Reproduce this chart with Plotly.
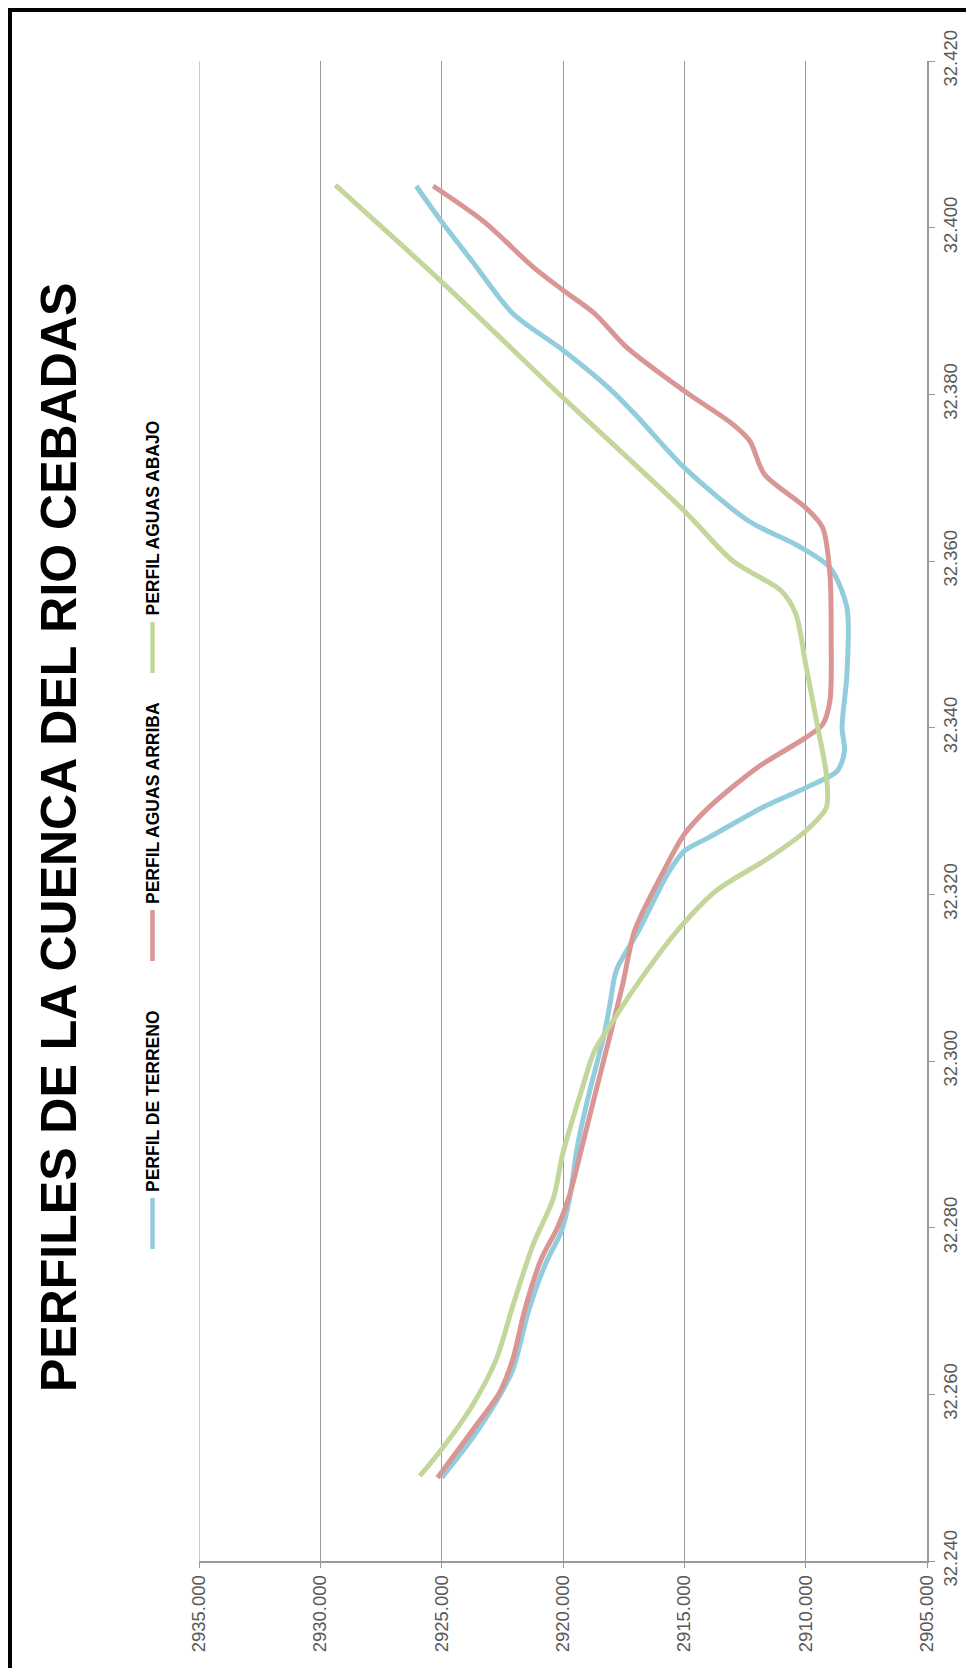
import plotly.graph_objects as go

# ---------------- data ----------------
dist_terreno = [32.2500, 32.2547, 32.2599, 32.2629, 32.2702, 32.2758, 32.2796, 32.2835,
                32.2899, 32.2964, 32.3032, 32.3071, 32.3109, 32.3157, 32.3224, 32.3252,
                32.3268, 32.3304, 32.3328, 32.3348, 32.3372, 32.3400, 32.3464, 32.3544,
                32.3592, 32.3618, 32.3648, 32.3712, 32.3772, 32.3806, 32.3853, 32.3897,
                32.3960, 32.4007, 32.4050]
elev_terreno = [2925.00, 2923.75, 2922.60, 2922.07, 2921.40, 2920.70, 2920.06, 2919.73,
                2919.40, 2918.90, 2918.30, 2918.05, 2917.80, 2916.87, 2915.70, 2915.00,
                2914.00, 2911.80, 2910.00, 2908.70, 2908.40, 2908.50, 2908.30, 2908.30,
                2909.00, 2910.30, 2912.35, 2915.00, 2916.90, 2918.05, 2920.00, 2922.07,
                2923.75, 2925.00, 2926.05]

dist_arriba = [32.2500, 32.2556, 32.2603, 32.2642, 32.2702, 32.2762, 32.2800, 32.2839,
               32.2899, 32.2955, 32.3032, 32.3092, 32.3157, 32.3228, 32.3272, 32.3304,
               32.3352, 32.3388, 32.3404, 32.3432, 32.3510, 32.3584, 32.3640, 32.3664,
               32.3704, 32.3744, 32.3764, 32.3804, 32.3857, 32.3897, 32.3925, 32.3953,
               32.4007, 32.4050]
elev_arriba = [2925.17, 2923.75, 2922.60, 2922.07, 2921.57, 2920.90, 2920.23, 2919.73,
               2919.20, 2918.72, 2918.05, 2917.54, 2917.04, 2915.85, 2915.00, 2914.00,
               2912.00, 2910.00, 2909.30, 2909.00, 2908.95, 2909.00, 2909.30, 2910.00,
               2911.70, 2912.30, 2913.00, 2915.00, 2917.40, 2918.70, 2920.00, 2921.24,
               2923.25, 2925.35]

dist_abajo = [32.2502, 32.2534, 32.2586, 32.2642, 32.2706, 32.2779, 32.2835, 32.2890,
              32.2968, 32.3011, 32.3043, 32.3088, 32.3157, 32.3204, 32.3244, 32.3276,
              32.3304, 32.3344, 32.3400, 32.3476, 32.3536, 32.3564, 32.3600, 32.3660,
              32.3796, 32.3935, 32.4051]
elev_abajo = [2925.90, 2925.00, 2923.75, 2922.75, 2922.07, 2921.24, 2920.40, 2920.00,
              2919.20, 2918.72, 2918.05, 2917.04, 2915.27, 2913.70, 2911.50, 2910.00,
              2909.15, 2909.15, 2909.50, 2910.00, 2910.40, 2911.00, 2913.00, 2915.00,
              2920.00, 2925.00, 2929.38]

series_names = ["PERFIL DE TERRENO", "PERFIL AGUAS ARRIBA", "PERFIL AGUAS ABAJO"]
series_colors = ["#93CDDD", "#D99694", "#C3D69B"]
elev_ticks = [2905, 2910, 2915, 2920, 2925, 2930, 2935]
dist_ticks = [32.24, 32.26, 32.28, 32.30, 32.32, 32.34, 32.36, 32.38, 32.40, 32.42]
title_text = "PERFILES DE LA CUENCA DEL RIO CEBADAS"

# ---------------- layout geometry ----------------
# the page body has an 8px default margin, so the figure is shifted by OFF
OFF = 8
PAGE_W, PAGE_H = 974, 1668
W, H = PAGE_W - OFF, PAGE_H - OFF
# plot area in page pixels: x 199..927, y 61..1561
L, T = 199 - OFF, 61 - OFF
R = W - (927 - OFF)
B = H - (1561 - OFF)
PW, PH = W - L - R, H - T - B


def px(page_x):
    return (page_x - OFF - L) / PW


def py(page_y):
    return (H - B - (page_y - OFF)) / PH


fig = go.Figure()
data = [(dist_terreno, elev_terreno), (dist_arriba, elev_arriba), (dist_abajo, elev_abajo)]
for (d, e), name, col in zip(data, series_names, series_colors):
    fig.add_trace(go.Scatter(x=e, y=d, mode="lines", name=name,
                             line=dict(color=col, width=5, shape="spline", smoothing=0.8),
                             showlegend=False))

tickfont = dict(family="Liberation Sans, Arial, sans-serif", size=18.5, color="#595959")
axis_grey = "#9a9a9a"

fig.update_layout(
    width=W, height=H,
    margin=dict(l=L, r=R, t=T, b=B, autoexpand=False),
    paper_bgcolor="white", plot_bgcolor="white",
    showlegend=False,
    xaxis=dict(range=[2935, 2905], tickvals=elev_ticks, tickformat=".3f",
               tickangle=-90, tickfont=tickfont, showgrid=True, gridcolor=axis_grey,
               gridwidth=1, showline=True, linecolor=axis_grey, linewidth=1.5,
               ticks="outside", ticklen=5, tickcolor=axis_grey, zeroline=False,
               automargin=False),
    yaxis=dict(range=[32.24, 32.42], tickvals=dist_ticks, tickformat=".3f",
               side="right", tickangle=-90, tickfont=tickfont, showgrid=False,
               showline=True, linecolor=axis_grey, linewidth=1.5, ticks="outside",
               ticklen=6, tickcolor=axis_grey, zeroline=False, automargin=False),
)

shapes = []
# left gridline at 2935 (edge of plot)
shapes.append(dict(type="line", xref="x", yref="paper", x0=2935, x1=2935, y0=0, y1=1,
                   line=dict(color=axis_grey, width=1)))
# frame (top and left thick black borders)
shapes.append(dict(type="line", xref="paper", yref="paper", x0=px(0), x1=px(PAGE_W + 10),
                   y0=py(OFF + 2), y1=py(OFF + 2), line=dict(color="black", width=4)))
shapes.append(dict(type="line", xref="paper", yref="paper", x0=px(OFF + 2), x1=px(OFF + 2),
                   y0=py(0), y1=py(PAGE_H + 10), line=dict(color="black", width=4)))

annotations = []
# title, rotated
annotations.append(dict(text="<b>%s</b>" % title_text, xref="paper", yref="paper",
                        x=px(58.5), y=py(837.5), xanchor="center", yanchor="middle",
                        textangle=-90, showarrow=False,
                        font=dict(family="Liberation Sans, Arial, sans-serif", size=50,
                                  color="black")))

# legend, rotated
leg_line_start = [1198, 910, 622]
leg_len = 51
leg_x = 152.5
for name, col, y0 in zip(series_names, series_colors, leg_line_start):
    shapes.append(dict(type="line", xref="paper", yref="paper", x0=px(leg_x), x1=px(leg_x),
                       y0=py(y0), y1=py(y0 + leg_len), line=dict(color=col, width=4.5)))
    annotations.append(dict(text="<b>%s</b>" % name, xref="paper", yref="paper",
                            x=px(leg_x + 0.5), y=py(y0 - 4), xanchor="center", yanchor="bottom",
                            textangle=-90, showarrow=False,
                            font=dict(family="Liberation Sans Narrow, Arial Narrow, Liberation Sans, sans-serif",
                                      size=17.5, color="black")))

fig.update_layout(shapes=shapes, annotations=annotations)

fig.write_html("out.html")
